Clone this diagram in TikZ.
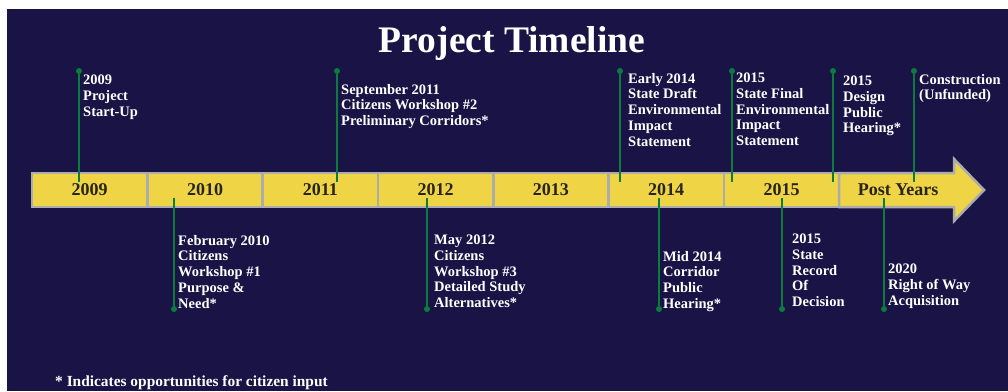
\documentclass[tikz,border=0pt]{standalone}
\usepackage{fontspec}
\setmainfont{Liberation Serif}
\usetikzlibrary{positioning}
\definecolor{nightblue}{RGB}{26,20,70}
\definecolor{baryellow}{RGB}{239,212,69}
\definecolor{bargray}{RGB}{172,172,172}
\definecolor{yeartext}{RGB}{40,36,30}
\definecolor{pingreen}{RGB}{10,125,62}

\begin{document}
\begin{tikzpicture}[
  x=1pt, y=-1pt,
  yearcell/.style = {
    draw=bargray, line width=2.5pt, fill=baryellow,
    minimum width=115.3pt, minimum height=34pt,
    inner sep=0pt, outer sep=0pt,
    font=\fontsize{18}{18}\selectfont\bfseries, text=yeartext
  },
  pin/.style  = { circle, fill=pingreen, inner sep=0pt, minimum size=6pt },
  stem/.style = { draw=pingreen, line width=1.6pt },
  note/.style = {
    anchor=north west, text=white, align=left, inner sep=0pt,
    font=\fontsize{14.5}{15.7}\selectfont\bfseries
  }
]

\useasboundingbox (0,0) rectangle (1008,391);
\fill[white] (0,0) rectangle (1008,391);
\fill[nightblue] (7,9) rectangle (1008,391);

\node[text=white, font=\fontsize{37.5}{37.5}\selectfont\bfseries] (title) at (512,43) {Project Timeline};

% timeline bar
\node[yearcell] (c2009) at (89.7,190) {2009};
\node[yearcell, right=0pt of c2009] (c2010) {2010};
\node[yearcell, right=0pt of c2010] (c2011) {2011};
\node[yearcell, right=0pt of c2011] (c2012) {2012};
\node[yearcell, right=0pt of c2012] (c2013) {2013};
\node[yearcell, right=0pt of c2013] (c2014) {2014};
\node[yearcell, right=0pt of c2014] (c2015) {2015};
\draw[bargray, line width=2.5pt, fill=baryellow, line join=miter]
  (c2015.north east) -- (954,173) -- (954,159) -- (984,190)
  -- (954,221) -- (954,207) -- (c2015.south east) -- cycle;
\node[yearcell, draw=none, fill=none, minimum width=0pt] (cpost) at (898,190) {Post Years};

% milestones above
\node[pin] (p2009) at (79,71) {};
\node[pin] (psep11) at (337,71) {};
\node[pin] (pearly14) at (620,71) {};
\node[pin] (pfinal15) at (732,71) {};
\node[pin] (pdesign15) at (833,71) {};
\node[pin] (pbuild) at (914,71) {};
\coordinate (s2009) at (79,182);
\coordinate (ssep11) at (337,182);
\coordinate (searly14) at (620,182);
\coordinate (sfinal15) at (732,182);
\coordinate (sdesign15) at (833,182);
\coordinate (sbuild) at (914,182);
\draw[stem] (p2009) -- (s2009);
\draw[stem] (psep11) -- (ssep11);
\draw[stem] (pearly14) -- (searly14);
\draw[stem] (pfinal15) -- (sfinal15);
\draw[stem] (pdesign15) -- (sdesign15);
\draw[stem] (pbuild) -- (sbuild);

\node[note] (n2009) at (83,75) {2009\\Project\\Start-Up};
\node[note] (nsep11) at (341,84) {September 2011\\Citizens Workshop \#2\\Preliminary Corridors*};
\node[note] (nearly14) at (628,73) {Early 2014\\State Draft\\Environmental\\Impact\\Statement};
\node[note] (nfinal15) at (736,73) {2015\\State Final\\Environmental\\Impact\\Statement};
\node[note] (ndesign15) at (843,76) {2015\\Design\\Public\\Hearing*};
\node[note] (nbuild) at (919,74) {Construction\\(Unfunded)};

% milestones below
\node[pin] (pfeb10) at (174,309) {};
\node[pin] (pmay12) at (427,309) {};
\node[pin] (pmid14) at (659,309) {};
\node[pin] (prod15) at (782,309) {};
\node[pin] (prow20) at (884,309) {};
\coordinate (sfeb10) at (174,198);
\coordinate (smay12) at (427,198);
\coordinate (smid14) at (659,198);
\coordinate (srod15) at (782,198);
\coordinate (srow20) at (884,198);
\draw[stem] (sfeb10) -- (pfeb10);
\draw[stem] (smay12) -- (pmay12);
\draw[stem] (smid14) -- (pmid14);
\draw[stem] (srod15) -- (prod15);
\draw[stem] (srow20) -- (prow20);

\node[note] (nfeb10) at (178,235) {February 2010\\Citizens\\Workshop \#1\\Purpose \&\\Need*};
\node[note] (nmay12) at (434,235) {May 2012\\Citizens\\Workshop \#3\\Detailed Study\\Alternatives*};
\node[note] (nmid14) at (663,251) {Mid 2014\\Corridor\\Public\\Hearing*};
\node[note] (nrod15) at (792,234) {2015\\State\\Record\\Of\\Decision};
\node[note] (nrow20) at (888,264) {2020\\Right of Way\\Acquisition};

\node[note, font=\fontsize{15.4}{15.4}\selectfont\bfseries] (footnote) at (55,375) {* Indicates opportunities for citizen input};

\end{tikzpicture}
\end{document}
